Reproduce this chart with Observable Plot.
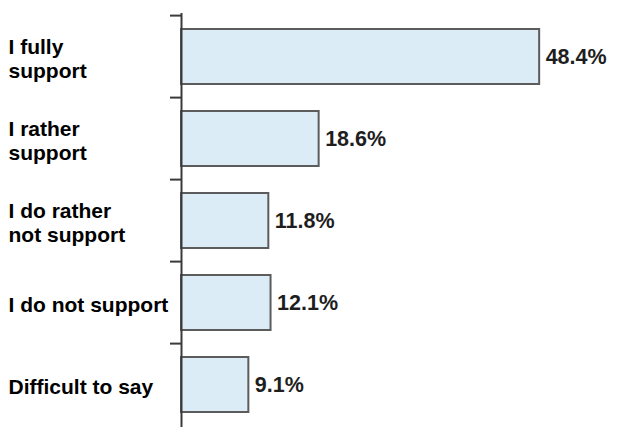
<!DOCTYPE html>
<html>
<head>
<meta charset="utf-8">
<script src="https://cdn.jsdelivr.net/npm/d3@7"></script>
<script src="https://cdn.jsdelivr.net/npm/@observablehq/plot@0.6"></script>
<style>
  html, body { margin: 0; padding: 0; background: #fff; }
  #chart svg { display: block; }
</style>
</head>
<body>
<div id="chart"></div>
<script>
const categories = ["I fully support", "I rather support", "I do rather not support", "I do not support", "Difficult to say"];
const labels = ["I fully\nsupport", "I rather\nsupport", "I do rather\nnot support", "I do not support", "Difficult to say"];
const values = [48.4, 18.6, 11.8, 12.1, 9.1];

const data = categories.map((c, i) => ({category: c, label: labels[i], value: values[i]}));

const W = 637, H = 427;
const mTop = 13, mLeft = 181, mRight = 12;
const step = (H - mTop) / categories.length;

const chart = Plot.plot({
  width: W,
  height: H,
  marginTop: mTop,
  marginBottom: 0,
  marginLeft: mLeft,
  marginRight: mRight,
  style: {fontFamily: "'Liberation Sans', Arial, sans-serif", background: "#fff"},
  x: {domain: [0, 60], axis: null},
  y: {domain: categories, paddingInner: 0.33, paddingOuter: 0.165, axis: null},
  marks: [
    Plot.barX(data, {x: "value", y: "category", fill: "#dbecf6", stroke: "#5c5c5c", strokeWidth: 2}),
    Plot.ruleX([0], {stroke: "#3a3a3a", strokeWidth: 2}),
    Plot.ruleY(data, {y: "category", x1: 0, x2: 0, insetLeft: -11, dy: -step / 2, stroke: "#3a3a3a", strokeWidth: 2}),
    Plot.text(data, {x: "value", y: "category", text: d => d.value.toFixed(1) + "%", textAnchor: "start", dx: 6, fontSize: 21.5, fontWeight: "bold", fill: "#1e1e1e"}),
    Plot.text(data, {y: "category", text: "label", frameAnchor: "left", textAnchor: "start", dx: 8 - mLeft, dy: 1, lineHeight: 1.15, fontSize: 21, fontWeight: "bold", fill: "#000"})
  ]
});
document.getElementById("chart").appendChild(chart);
</script>
</body>
</html>
